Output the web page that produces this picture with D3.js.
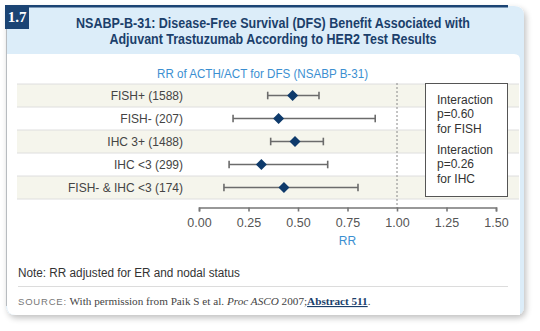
<!DOCTYPE html>
<html>
<head>
<meta charset="utf-8">
<script src="https://cdn.jsdelivr.net/npm/d3@7"></script>
<style>
  html, body { margin: 0; padding: 0; background: #fff; }
  svg { display: block; }
</style>
</head>
<body>
<svg id="chart" width="540" height="331"></svg>
<script>
const categories = ["FISH+ (1588)", "FISH- (207)", "IHC 3+ (1488)", "IHC <3 (299)", "FISH- & IHC <3 (174)"];
const rrPoint = [0.473, 0.402, 0.485, 0.315, 0.429];
const ciLow   = [0.347, 0.172, 0.362, 0.152, 0.126];
const ciHigh  = [0.606, 0.890, 0.628, 0.650, 0.803];
const tickValues = [0, 0.25, 0.5, 0.75, 1.0, 1.25, 1.5];
const titleLines = ["NSABP-B-31: Disease-Free Survival (DFS) Benefit Associated with",
                    "Adjuvant Trastuzumab According to HER2 Test Results"];
const subtitle = "RR of ACTH/ACT for DFS (NSABP B-31)";
const boxLines = ["Interaction", "p=0.60", "for FISH", "Interaction", "p=0.26", "for IHC"];

const svg = d3.select("#chart");
const font = "'Liberation Sans', Arial, sans-serif";

// shadow filter
const defs = svg.append("defs");
const f = defs.append("filter").attr("id", "sh").attr("x", "-5%").attr("y", "-5%").attr("width", "110%").attr("height", "115%");
f.append("feGaussianBlur").attr("in", "SourceAlpha").attr("stdDeviation", 3);
f.append("feOffset").attr("dx", 2).attr("dy", 3).attr("result", "o");
f.append("feComponentTransfer").append("feFuncA").attr("type", "linear").attr("slope", 0.25);
const m = f.append("feMerge"); m.append("feMergeNode"); m.append("feMergeNode").attr("in", "SourceGraphic");

// card
svg.append("path")
  .attr("d", "M6,6 H514 Q524,6 524,16 V306 Q524,315 515,315 H16 Q6,315 6,305 Z")
  .attr("fill", "#dcedf9").attr("filter", "url(#sh)");
// white inner panel
svg.append("path")
  .attr("d", "M7,54 H514 Q520,54 520,60 V315 H16 Q7,315 7,306 Z")
  .attr("fill", "#ffffff");
// left gray border
svg.append("line").attr("x1", 6.5).attr("x2", 6.5).attr("y1", 29).attr("y2", 306)
  .attr("stroke", "#b8bcc0").attr("stroke-width", 1);
// top dark bar
svg.append("rect").attr("x", 28).attr("y", 5).attr("width", 480).attr("height", 2.5).attr("fill", "#1b4474");
// badge
svg.append("rect").attr("x", 5).attr("y", 5).attr("width", 24).attr("height", 24).attr("fill", "#1b4474");
svg.append("text").attr("x", 17).attr("y", 22).attr("text-anchor", "middle")
  .attr("font-family", "'Liberation Serif', serif").attr("font-weight", "bold").attr("font-size", 15)
  .attr("fill", "#fff").text("1.7");

// title
svg.selectAll("text.title").data(titleLines).enter().append("text")
  .attr("class", "title")
  .attr("x", 273).attr("y", (d, i) => 28 + i * 16)
  .attr("text-anchor", "middle")
  .attr("font-family", font).attr("font-weight", "bold").attr("font-size", 14.5)
  .attr("fill", "#1b3f6b")
  .attr("textLength", (d, i) => i === 0 ? 394 : 327)
  .attr("lengthAdjust", "spacingAndGlyphs")
  .text(d => d);

// subtitle
svg.append("text").attr("x", 262.5).attr("y", 77.5).attr("text-anchor", "middle")
  .attr("font-family", font).attr("font-size", 12).attr("fill", "#3b8fd1")
  .attr("textLength", 211).attr("lengthAdjust", "spacingAndGlyphs")
  .text(subtitle);

// scales
const x = d3.scaleLinear().domain([0, 1.5]).range([199, 496]);
const y = d3.scaleBand().domain(categories).range([84, 199]).padding(0);

// row bands
const rows = svg.append("g");
rows.selectAll("rect").data(categories).enter().append("rect")
  .attr("x", 17).attr("width", 502)
  .attr("y", d => y(d)).attr("height", y.bandwidth())
  .attr("fill", (d, i) => i % 2 === 0 ? "#f5f5ec" : "#ffffff");
rows.selectAll("line").data(d3.range(categories.length + 1)).enter().append("line")
  .attr("x1", 17).attr("x2", 519)
  .attr("y1", i => 84 + i * y.bandwidth()).attr("y2", i => 84 + i * y.bandwidth())
  .attr("stroke", "#dedede").attr("stroke-width", 1);

// row labels
svg.selectAll("text.lab").data(categories).enter().append("text")
  .attr("class", "lab")
  .attr("x", 183).attr("y", d => y(d) + y.bandwidth() / 2 + 4.5)
  .attr("text-anchor", "end")
  .attr("font-family", font).attr("font-size", 12).attr("fill", "#444")
  .text(d => d);

// reference dashed line
svg.append("line").attr("x1", x(1)).attr("x2", x(1)).attr("y1", 83).attr("y2", 208)
  .attr("stroke", "#888").attr("stroke-width", 1).attr("stroke-dasharray", "2,2");

// interaction box
svg.append("rect").attr("x", 425.5).attr("y", 83.5).attr("width", 82).attr("height", 113)
  .attr("fill", "#fff").attr("stroke", "#555").attr("stroke-width", 1);
svg.selectAll("text.box").data(boxLines).enter().append("text")
  .attr("class", "box")
  .attr("x", 437).attr("y", (d, i) => 104 + i * 14.4 + (i >= 3 ? 6.5 : 0))
  .attr("font-family", font).attr("font-size", 12).attr("fill", "#333")
  .text(d => d);

// error bars
const eb = svg.append("g");
categories.forEach((c, i) => {
  const cy = y(c) + y.bandwidth() / 2;
  eb.append("line").attr("x1", x(ciLow[i])).attr("x2", x(ciHigh[i])).attr("y1", cy).attr("y2", cy)
    .attr("stroke", "#6b6b6b").attr("stroke-width", 1.6);
  [ciLow[i], ciHigh[i]].forEach(v => {
    eb.append("line").attr("x1", x(v)).attr("x2", x(v)).attr("y1", cy - 3.8).attr("y2", cy + 3.8)
      .attr("stroke", "#6b6b6b").attr("stroke-width", 1.6);
  });
});
// diamonds
svg.selectAll("path.pt").data(categories).enter().append("path")
  .attr("class", "pt")
  .attr("transform", (d, i) => `translate(${x(rrPoint[i])},${y(d) + y.bandwidth() / 2})`)
  .attr("d", "M0,-5.5 L5.5,0 L0,5.5 L-5.5,0 Z")
  .attr("fill", "#0e3a6b");

// axis
const axis = d3.axisBottom(x).tickValues(tickValues).tickFormat(d3.format(".2f")).tickSize(4).tickSizeOuter(4);
const ag = svg.append("g").attr("transform", "translate(0,207.5)").call(axis);
ag.select(".domain").attr("stroke", "#777").attr("stroke-width", 1.6);
ag.selectAll(".tick line").attr("stroke", "#777").attr("stroke-width", 1.6);
ag.selectAll(".tick text").attr("font-family", font).attr("font-size", 12.5).attr("fill", "#555").attr("dy", "0.9em").attr("y", 8);

svg.append("text").attr("x", x(0.75)).attr("y", 245).attr("text-anchor", "middle")
  .attr("font-family", font).attr("font-size", 12).attr("fill", "#3b8fd1").text("RR");

// note
svg.append("text").attr("x", 18).attr("y", 276.5)
  .attr("font-family", font).attr("font-size", 12).attr("fill", "#333")
  .attr("textLength", 222).attr("lengthAdjust", "spacingAndGlyphs")
  .text("Note: RR adjusted for ER and nodal status");
svg.append("line").attr("x1", 18).attr("x2", 508).attr("y1", 286.5).attr("y2", 286.5)
  .attr("stroke", "#dcdcdc").attr("stroke-width", 1);

// source
const src = svg.append("text").attr("x", 18).attr("y", 305)
  .attr("font-family", "'Liberation Serif', serif").attr("font-size", 11.2).attr("fill", "#444");
src.append("tspan").attr("font-family", font).attr("font-size", 9.5).attr("letter-spacing", 0.8).attr("fill", "#777").text("SOURCE:");
src.append("tspan").text(" With permission from Paik S et al. ");
src.append("tspan").attr("font-style", "italic").text("Proc ASCO");
src.append("tspan").text(" 2007;");
src.append("tspan").attr("font-weight", "bold").attr("fill", "#1b3f6b").attr("text-decoration", "underline").text("Abstract 511");
src.append("tspan").text(".");
</script>
</body>
</html>
